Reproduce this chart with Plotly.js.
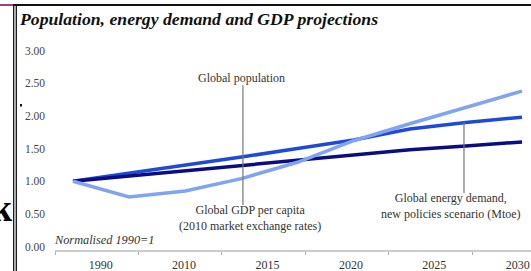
<!DOCTYPE html>
<html><head><meta charset="utf-8">
<script src="https://cdn.plot.ly/plotly-3.0.1.min.js"></script>
<style>html,body{margin:0;padding:0;background:#fff;overflow:hidden;} #chart{width:531px;height:271px;}</style>
</head><body><div id="chart"></div>
<script>
// ---- data ----
const years = [1990, 1995, 2000, 2005, 2010, 2015, 2020, 2025, 2030];
const population = [1.00, 1.08, 1.17, 1.25, 1.32, 1.40, 1.48, 1.54, 1.60];
const energyDemand = [1.00, 1.12, 1.25, 1.37, 1.50, 1.63, 1.80, 1.90, 1.98];
const gdpPerCapita = [1.00, 0.76, 0.85, 1.04, 1.29, 1.62, 1.88, 2.13, 2.38];
const xTickLabels = ['1990', '2010', '2015', '2020', '2025', '2030'];
const yTickVals = [0, 0.5, 1, 1.5, 2, 2.5, 3];

const W = 531, H = 271;
const M = {l: 55, r: 0, t: 40, b: 21};
const serif = 'Liberation Serif, Times New Roman, serif';
// pixel -> paper helpers for page decorations
const px = v => (v - M.l) / (W - M.l - M.r);
const py = v => (H - M.b - v) / (H - M.t - M.b);

const traces = [
  {x: xTickLabels, y: xTickLabels.map(() => null), xaxis: 'x', yaxis: 'y',
   type: 'scatter', mode: 'lines', hoverinfo: 'skip', showlegend: false},
  {x: years, y: energyDemand, xaxis: 'x2', yaxis: 'y', type: 'scatter', mode: 'lines',
   line: {color: '#1f4ad8', width: 3.5}, name: 'Global energy demand'},
  {x: years, y: population, xaxis: 'x2', yaxis: 'y', type: 'scatter', mode: 'lines',
   line: {color: '#0c0c82', width: 3.5}, name: 'Global population'},
  {x: years, y: gdpPerCapita, xaxis: 'x2', yaxis: 'y', type: 'scatter', mode: 'lines',
   line: {color: '#80a4f0', width: 3.5}, name: 'Global GDP per capita'}
];

const layout = {
  width: W, height: H,
  margin: M,
  paper_bgcolor: '#fff', plot_bgcolor: '#fff',
  showlegend: false,
  title: {
    text: '<b><i>Population, energy demand and GDP projections</i></b>',
    font: {family: serif, size: 17.7, color: '#111'},
    x: 20 / W, xanchor: 'left', xref: 'container',
    y: 1 - 18.5 / H, yanchor: 'middle', yref: 'container'
  },
  xaxis: {
    type: 'category', range: [-0.5, 5.207], tickson: 'boundaries',
    ticks: 'outside', ticklen: 3, tickwidth: 1, tickcolor: '#b0b0b0',
    showline: true, linecolor: '#cccccc', linewidth: 2,
    showgrid: false, zeroline: false,
    tickfont: {family: serif, size: 12, color: '#333'},
    ticklabelshift: 4, ticklabelstandoff: 3
  },
  xaxis2: {overlaying: 'x', anchor: 'y', range: [1988.40, 2030.80], visible: false},
  yaxis: {
    range: [-0.0536, 3.1623], tickmode: 'array', tickvals: yTickVals, tickformat: '.2f',
    ticks: '', showline: false, showgrid: false, zeroline: false,
    tickfont: {family: serif, size: 11.5, color: '#444'},
    ticklabelstandoff: 9
  },
  shapes: [
    {type: 'line', xref: 'x2', yref: 'y', x0: 2005.14, x1: 2005.14, y0: 0.636, y1: 2.47,
     line: {color: '#777', width: 1.2}},
    {type: 'line', xref: 'x2', yref: 'y', x0: 2024.83, x1: 2024.83, y0: 0.82, y1: 1.905,
     line: {color: '#777', width: 1.2}},
    // page decorations
    {type: 'line', xref: 'paper', yref: 'paper', x0: px(0), x1: px(13), y0: py(5), y1: py(5),
     line: {color: '#a0407a', width: 2}},
    {type: 'line', xref: 'paper', yref: 'paper', x0: px(13), x1: px(531), y0: py(5), y1: py(5),
     line: {color: '#111', width: 2}},
    {type: 'line', xref: 'paper', yref: 'paper', x0: px(13.7), x1: px(13.7), y0: py(4), y1: py(271),
     line: {color: '#111', width: 1.3}},
    {type: 'line', xref: 'paper', yref: 'paper', x0: px(16.3), x1: px(16.3), y0: py(4), y1: py(271),
     line: {color: '#111', width: 1.3}},
    {type: 'rect', xref: 'paper', yref: 'paper', x0: px(20), x1: px(22), y0: py(104), y1: py(106.5),
     line: {width: 0}, fillcolor: '#111'}
  ],
  annotations: [
    {text: 'Global population', xref: 'x2', yref: 'y', x: 2005.05, y: 2.58, showarrow: false,
     font: {family: serif, size: 12, color: '#333'}},
    {text: 'Global GDP per capita<br>(2010 market exchange rates)', xref: 'x2', yref: 'y',
     x: 2005.81, y: 0.444, showarrow: false, font: {family: serif, size: 12, color: '#333'}},
    {text: 'Global energy demand,<br>new policies scenario (Mtoe)', xref: 'x2', yref: 'y',
     x: 2023.67, y: 0.62, showarrow: false, font: {family: serif, size: 12, color: '#333'}},
    {text: '<i>Normalised 1990=1</i>', xref: 'paper', yref: 'paper', x: px(52), y: py(240),
     xanchor: 'left', yanchor: 'middle', showarrow: false,
     font: {family: serif, size: 12.3, color: '#333'}},
    {text: '<b>k</b>', xref: 'paper', yref: 'paper', x: px(14.5), y: py(208),
     xanchor: 'right', yanchor: 'middle', showarrow: false,
     font: {family: serif, size: 38, color: '#000'}}
  ]
};

Plotly.newPlot('chart', traces, layout, {staticPlot: true, displayModeBar: false});
</script>
</body></html>
